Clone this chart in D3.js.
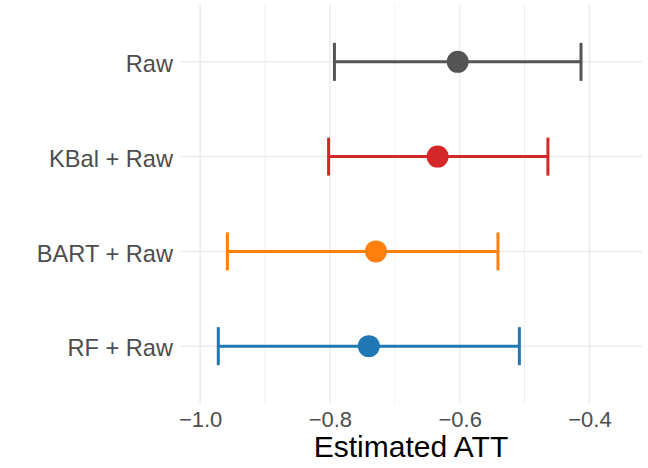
<!DOCTYPE html>
<html>
<head>
<meta charset="utf-8">
<script src="https://cdn.jsdelivr.net/npm/d3@7"></script>
<style>
  body { margin: 0; background: #fff; }
  svg { display: block; font-family: "Liberation Sans", Arial, Helvetica, sans-serif; }
</style>
</head>
<body>
<svg id="chart" width="648" height="468"></svg>
<script>
// 추정치 데이터
const methods = ["Raw", "KBal + Raw", "BART + Raw", "RF + Raw"];
const estimates = [-0.603, -0.634, -0.729, -0.740];
const lowerCI = [-0.793, -0.802, -0.958, -0.972];
const upperCI = [-0.413, -0.464, -0.541, -0.508];
const colors = ["#545454", "#d62728", "#ff7f0e", "#1f77b4"];
const xTicks = [-1.0, -0.8, -0.6, -0.4];
const xMinorTicks = [-0.9, -0.7, -0.5];

const data = methods.map((m, i) => ({
	method: m,
	est: estimates[i],
	lo: lowerCI[i],
	hi: upperCI[i],
	color: colors[i]
}));

const svg = d3.select("#chart");
const panel = { left: 180, right: 642, top: 5, bottom: 403 };

const x = d3.scaleLinear()
	.domain([-1.031, -0.319])
	.range([panel.left, panel.right]);

const y = d3.scalePoint()
	.domain(methods)
	.range([panel.top, panel.bottom])
	.padding(0.6);

// 그리드
const grid = svg.append("g");
grid.selectAll(".minor").data(xMinorTicks).enter().append("line")
	.attr("x1", d => x(d)).attr("x2", d => x(d))
	.attr("y1", panel.top).attr("y2", panel.bottom)
	.attr("stroke", "#ebebeb").attr("stroke-width", 0.8);
grid.selectAll(".major").data(xTicks).enter().append("line")
	.attr("x1", d => x(d)).attr("x2", d => x(d))
	.attr("y1", panel.top).attr("y2", panel.bottom)
	.attr("stroke", "#ebebeb").attr("stroke-width", 1.5);
grid.selectAll(".hmajor").data(methods).enter().append("line")
	.attr("x1", panel.left).attr("x2", panel.right)
	.attr("y1", d => y(d)).attr("y2", d => y(d))
	.attr("stroke", "#ebebeb").attr("stroke-width", 1.5);

// 축
const xAxis = svg.append("g")
	.attr("transform", `translate(0,${panel.bottom})`)
	.call(d3.axisBottom(x).tickValues(xTicks).tickFormat(d3.format(".1f")).tickSize(0).tickPadding(8));
xAxis.select(".domain").remove();
xAxis.selectAll("text")
	.attr("fill", "#4d4d4d")
	.style("font-size", "22px");

const yAxis = svg.append("g")
	.attr("transform", `translate(${panel.left},0)`)
	.call(d3.axisLeft(y).tickSize(0).tickPadding(7));
yAxis.select(".domain").remove();
yAxis.selectAll("text")
	.attr("fill", "#4d4d4d")
	.attr("dy", "0.41em")
	.style("font-size", "23.6px");

// 신뢰구간
const rows = svg.selectAll(".row").data(data).enter().append("g").attr("class", "row");
rows.append("line")
	.attr("x1", d => x(d.lo)).attr("x2", d => x(d.hi))
	.attr("y1", d => y(d.method)).attr("y2", d => y(d.method))
	.attr("stroke", d => d.color).attr("stroke-width", 3);
rows.append("line")
	.attr("x1", d => x(d.lo)).attr("x2", d => x(d.lo))
	.attr("y1", d => y(d.method) - 19).attr("y2", d => y(d.method) + 19)
	.attr("stroke", d => d.color).attr("stroke-width", 3);
rows.append("line")
	.attr("x1", d => x(d.hi)).attr("x2", d => x(d.hi))
	.attr("y1", d => y(d.method) - 19).attr("y2", d => y(d.method) + 19)
	.attr("stroke", d => d.color).attr("stroke-width", 3);
rows.append("circle")
	.attr("cx", d => x(d.est))
	.attr("cy", d => y(d.method))
	.attr("r", 11)
	.attr("fill", d => d.color);

// 축 제목
svg.append("text")
	.attr("x", (panel.left + panel.right) / 2)
	.attr("y", 457)
	.attr("text-anchor", "middle")
	.attr("fill", "#000")
	.style("font-size", "30px")
	.text("Estimated ATT");
</script>
</body>
</html>
